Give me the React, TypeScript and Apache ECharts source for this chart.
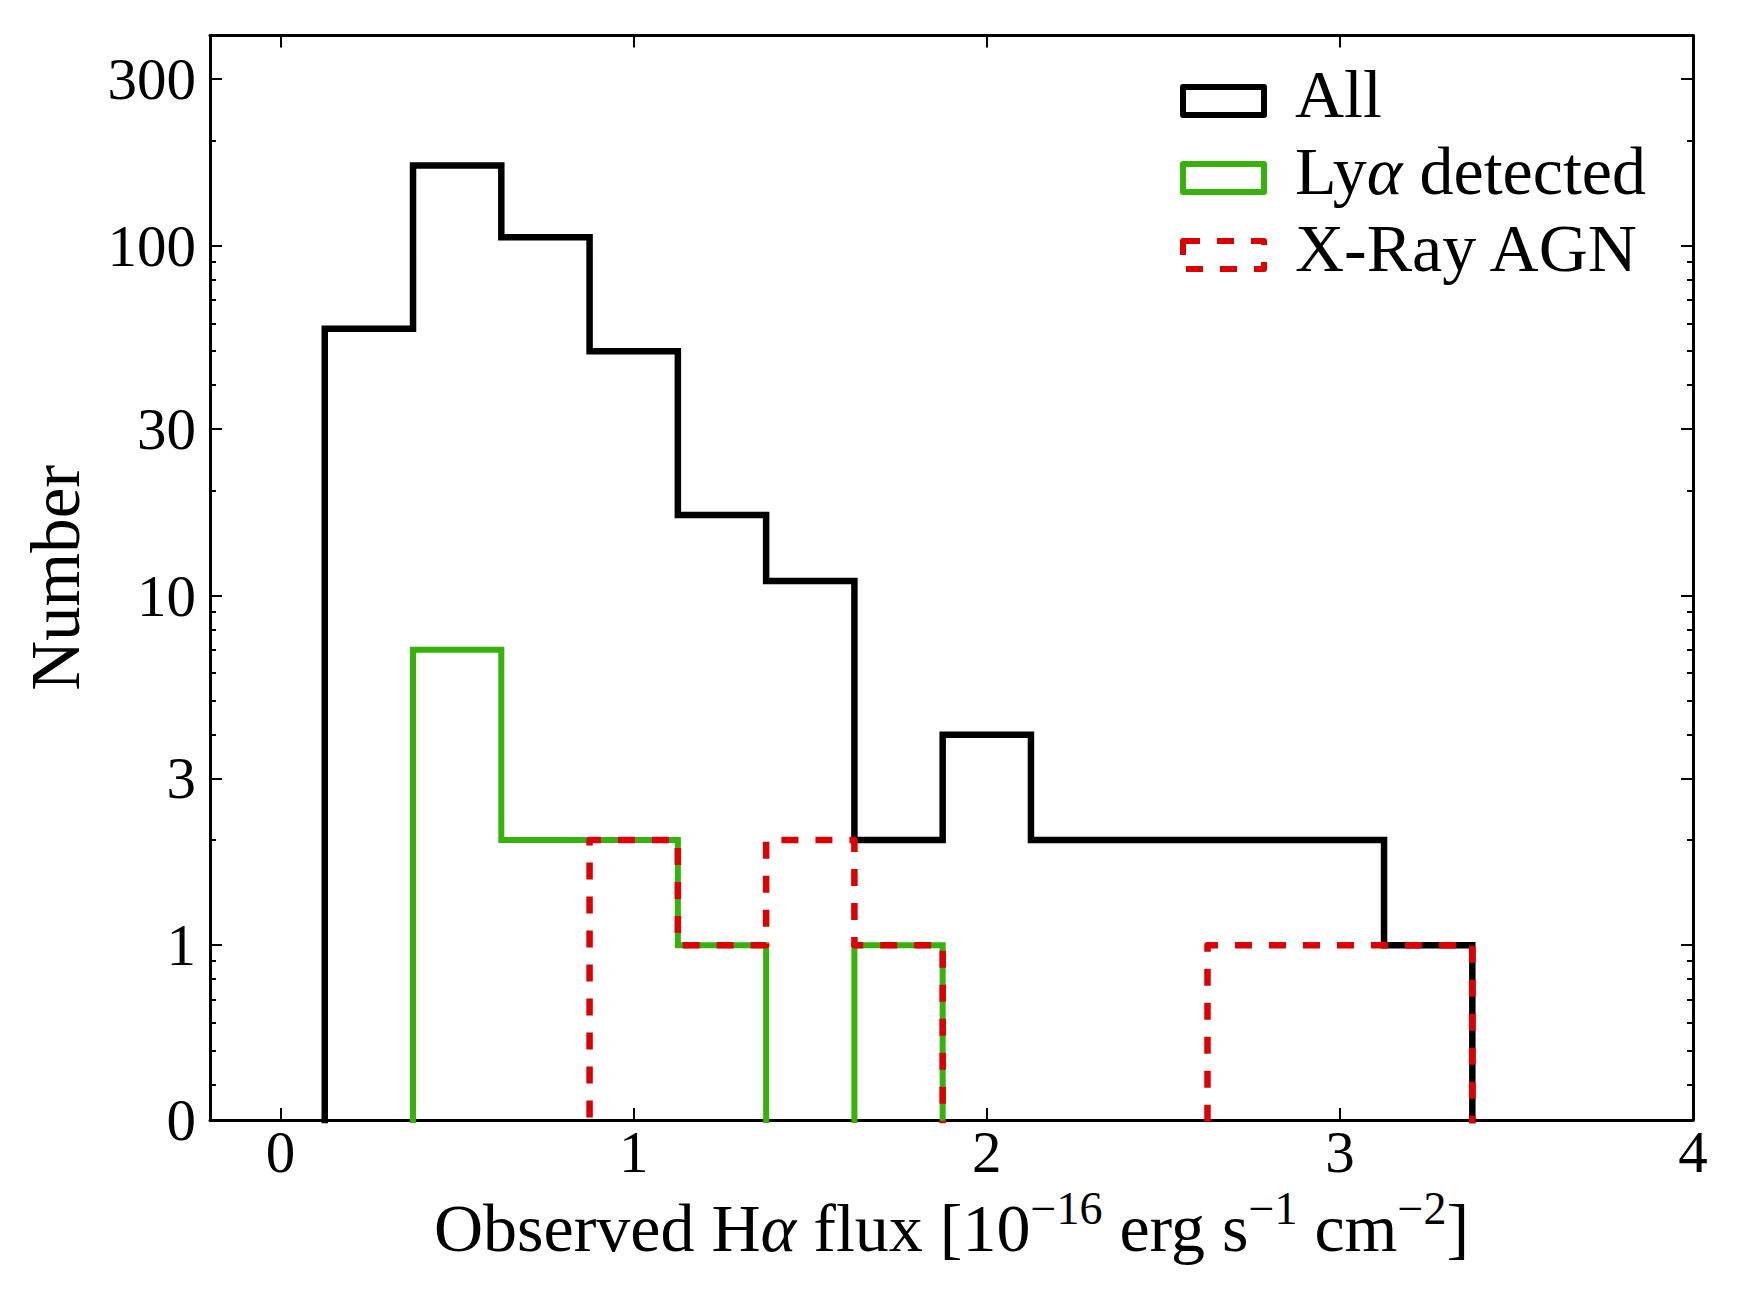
import React, { useEffect, useRef } from 'react';
import * as echarts from 'echarts';

// ---- data ----
const binEdges = [0.125, 0.375, 0.625, 0.875, 1.125, 1.375, 1.625, 1.875, 2.125, 2.375, 2.625, 2.875, 3.125, 3.375];
const allCounts = [58, 170, 106, 50, 17, 11, 2, 4, 2, 2, 2, 2, 1];
const lyaCounts = [0, 7, 2, 2, 1, 0, 1, 0, 0, 0, 0, 0, 0];
const agnCounts = [0, 0, 0, 2, 1, 2, 1, 0, 0, 0, 1, 1, 1];
const xTicks = [0, 1, 2, 3, 4];
const yTickNumbers = [1, 3, 10, 30, 100, 300];
const yTickLabels = ['0', '1', '3', '10', '30', '100', '300'];
const yMinorNumbers = [0.4, 0.5, 0.6, 0.7, 0.8, 0.9, 2, 4, 5, 6, 7, 8, 9, 20, 40, 50, 60, 70, 80, 90, 200];
const seriesNames = ['All', 'Lyα detected', 'X-Ray AGN'];
const legendTexts = ['All', 'Ly{it|α} detected', 'X-Ray AGN'];

const FONT = "'Liberation Serif', 'DejaVu Serif', serif";
const BLACK = '#000000';
const GREEN = '#36b20a';
const RED = '#dd0000';

const Y_ZERO = -0.5; // position of the "0" label (bottom)
const Y_MAX = Math.log10(400);
const FLOOR = -1; // zero counts drawn below the visible area

const yMajorVals = [Y_ZERO, ...yTickNumbers.map((n) => Math.log10(n))];
const yMinorVals = yMinorNumbers.map((n) => Math.log10(n));

function stepPoints(counts: number[]) {
  const t = (c: number) => (c > 0 ? Math.log10(c) : FLOOR);
  const pts: number[][] = [[binEdges[0], FLOOR]];
  counts.forEach((c, i) => {
    pts.push([binEdges[i], t(c)]);
    pts.push([binEdges[i + 1], t(c)]);
  });
  pts.push([binEdges[binEdges.length - 1], FLOOR]);
  return pts;
}

function yLabel(v: number) {
  let best = 0;
  for (let i = 0; i < yMajorVals.length; i++) {
    if (Math.abs(yMajorVals[i] - v) < Math.abs(yMajorVals[best] - v)) best = i;
  }
  return yTickLabels[best];
}

export default function App() {
  const ref = useRef<HTMLDivElement>(null);
  useEffect(() => {
    if (!ref.current) return;
    const chart = echarts.init(ref.current, null, { renderer: 'svg' });

    const baseYAxis = {
      type: 'value',
      min: Y_ZERO,
      max: Y_MAX,
      splitLine: { show: false },
    };
    const axisLineStyle = { show: true, onZero: false, lineStyle: { color: BLACK, width: 3 } };
    const noLine = { show: false, onZero: false };

    const legendDefs = [
      { color: BLACK, dash: null },
      { color: GREEN, dash: null },
      { color: RED, dash: [17, 17] },
    ];

    const graphic: any[] = [];
    legendDefs.forEach((d, i) => {
      graphic.push({
        type: 'rect',
        shape: { x: 1183, y: 87 + 77 * i, width: 81, height: 28 },
        style: { fill: 'none', stroke: d.color, lineWidth: 6, lineDash: d.dash || undefined, lineJoin: 'round' },
        silent: true,
      });
      graphic.push({
        type: 'text',
        x: 1295,
        y: 94 + 77 * i,
        style: {
          text: legendTexts[i],
          fontFamily: FONT,
          fontSize: 68,
          fill: BLACK,
          align: 'left',
          verticalAlign: 'middle',
          rich: {
            it: { fontFamily: FONT, fontSize: 68, fontStyle: 'italic', fill: BLACK },
          },
        },
        silent: true,
      });
    });

    const option: any = {
      animation: false,
      backgroundColor: '#ffffff',
      grid: { left: 210, right: 51, top: 35.5, bottom: 173, containLabel: false, outerBoundsMode: 'none' },
      xAxis: [
        {
          type: 'value',
          position: 'bottom',
          min: -0.2,
          max: 4,
          splitLine: { show: false },
          axisLine: axisLineStyle,
          axisTick: { show: true, inside: true, length: 12, lineStyle: { color: BLACK, width: 2 }, customValues: xTicks },
          axisLabel: {
            show: true,
            customValues: xTicks,
            fontFamily: FONT,
            fontSize: 59,
            color: BLACK,
            margin: 2,
            formatter: (v: number) => String(Math.round(v)),
          },
          name: 'Observed H{it|α} flux [10{sup|−16} erg s{sup|−1} cm{sup|−2}]',
          nameLocation: 'middle',
          nameGap: 58,
          nameTextStyle: {
            fontFamily: FONT,
            fontSize: 68,
            color: BLACK,
            lineHeight: 84,
            rich: {
              it: { fontFamily: FONT, fontSize: 68, fontStyle: 'italic', color: BLACK, lineHeight: 84 },
              sup: { fontFamily: FONT, fontSize: 46, color: BLACK, lineHeight: 46, verticalAlign: 'top' },
            },
          },
        },
        {
          type: 'value',
          position: 'top',
          min: -0.2,
          max: 4,
          splitLine: { show: false },
          axisLine: axisLineStyle,
          axisTick: { show: true, inside: true, length: 12, lineStyle: { color: BLACK, width: 2 }, customValues: xTicks },
          axisLabel: { show: false },
        },
      ],
      yAxis: [
        {
          ...baseYAxis,
          position: 'left',
          axisLine: axisLineStyle,
          axisTick: { show: true, inside: true, length: 12, lineStyle: { color: BLACK, width: 2 }, customValues: yMajorVals },
          axisLabel: {
            show: true,
            customValues: yMajorVals,
            fontFamily: FONT,
            fontSize: 59,
            color: BLACK,
            margin: 14,
            formatter: (v: number) => yLabel(v),
          },
          name: 'Number',
          nameLocation: 'middle',
          nameGap: 120,
          nameTextStyle: { fontFamily: FONT, fontSize: 69, color: BLACK, lineHeight: 69 },
        },
        {
          ...baseYAxis,
          position: 'right',
          axisLine: axisLineStyle,
          axisTick: { show: true, inside: true, length: 12, lineStyle: { color: BLACK, width: 2 }, customValues: yMajorVals },
          axisLabel: { show: false },
        },
        {
          ...baseYAxis,
          position: 'left',
          axisLine: noLine,
          axisTick: { show: true, inside: true, length: 6, lineStyle: { color: BLACK, width: 2 }, customValues: yMinorVals },
          axisLabel: { show: false },
        },
        {
          ...baseYAxis,
          position: 'right',
          axisLine: noLine,
          axisTick: { show: true, inside: true, length: 6, lineStyle: { color: BLACK, width: 2 }, customValues: yMinorVals },
          axisLabel: { show: false },
        },
      ],
      series: [
        {
          name: seriesNames[0],
          type: 'line',
          data: stepPoints(allCounts),
          symbol: 'none',
          clip: true,
          silent: true,
          z: 2,
          lineStyle: { color: BLACK, width: 6.5, join: 'miter', cap: 'butt' },
        },
        {
          name: seriesNames[1],
          type: 'line',
          data: stepPoints(lyaCounts),
          symbol: 'none',
          clip: true,
          silent: true,
          z: 3,
          lineStyle: { color: GREEN, width: 6, join: 'miter', cap: 'butt' },
        },
        {
          name: seriesNames[2],
          type: 'line',
          data: stepPoints(agnCounts),
          symbol: 'none',
          clip: true,
          silent: true,
          z: 4,
          lineStyle: { color: RED, width: 6.5, type: [17, 17], join: 'round', cap: 'butt' },
        },
      ],
      graphic,
    };

    chart.setOption(option);
    return () => chart.dispose();
  }, []);

  return (
    <div
      ref={ref}
      style={{ position: 'fixed', left: 0, top: 0, width: 1744, height: 1293, background: '#ffffff' }}
    />
  );
}
